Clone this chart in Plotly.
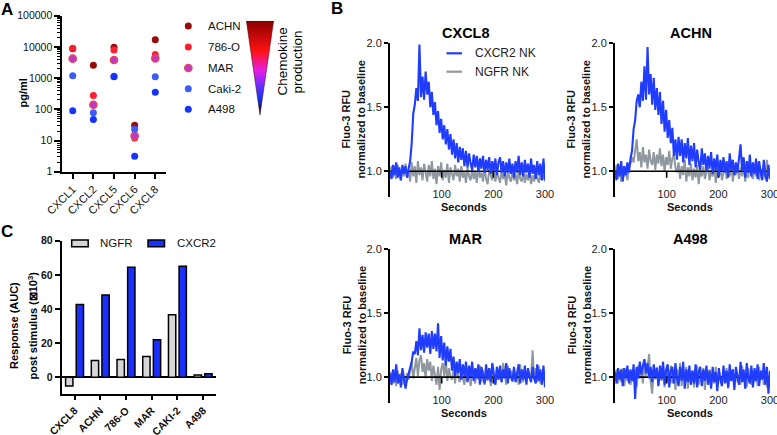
import base64
import plotly.graph_objects as go

W, H = 777, 435
FONT = "Liberation Sans"

# ---------------- Panel A data ----------------
chemokines = ["CXCL1", "CXCL2", "CXCL5", "CXCL6", "CXCL8"]
cell_lines_A = ["ACHN", "786-O", "MAR", "Caki-2", "A498"]
achn_pgml = [8800, 2600, 9700, 31, 17000]
o786_pgml = [9000, 275, 8000, 12, 5700]
mar_pgml = [4200, 140, 3800, 14, 4300]
caki2_pgml = [1200, 78, 1150, 23, 1100]
a498_pgml = [90, 47, 1100, 3.1, 355]
log_ticks = [1, 10, 100, 1000, 10000, 100000]

# ---------------- Panel C data ----------------
cells_C = ["CXCL8", "ACHN", "786-O", "MAR", "CAKI-2", "A498"]
ngfr_auc = [-5.1, 9.9, 10.5, 12.2, 36.7, 1.4]
cxcr2_auc = [42.6, 48.2, 64.4, 22.0, 65.0, 2.1]

# ---------------- Panel B data (one value every 3 s, 0..300 s) ----------------
cxcl8_cxcr2 = [
    1.00, 0.94, 1.05, 0.97, 1.07, 0.95, 1.03, 0.93, 1.05, 0.98,
    1.04, 0.95, 1.02, 1.08, 1.22, 1.45, 1.52, 1.65, 1.55, 1.99,
    1.58, 1.74, 1.56, 1.78, 1.60, 1.70, 1.50, 1.62, 1.44, 1.54,
    1.36, 1.47, 1.30, 1.41, 1.25, 1.36, 1.21, 1.33, 1.17, 1.29,
    1.13, 1.25, 1.10, 1.22, 1.07, 1.19, 1.09, 1.18, 1.04, 1.16,
    1.03, 1.14, 1.06, 1.01, 1.13, 1.03, 1.12, 1.00, 1.10, 1.02,
    1.12, 0.99, 1.09, 1.01, 1.11, 0.98, 1.08, 1.00, 1.10, 0.97,
    1.07, 1.11, 0.99, 1.08, 0.96, 1.07, 0.99, 1.10, 0.98, 1.06,
    0.95, 1.08, 0.99, 1.12, 0.97, 1.07, 0.96, 1.09, 0.99, 1.06,
    0.95, 1.10, 0.98, 1.05, 0.94, 1.08, 0.97, 1.06, 0.93, 1.10,
    0.93]
cxcl8_ngfr = [
    0.98, 1.04, 0.95, 1.02, 0.94, 1.05, 0.99, 0.93, 1.03, 0.96,
    1.06, 0.95, 1.01, 0.92, 1.07, 0.96, 1.04, 0.91, 1.08, 0.97,
    1.03, 0.93, 1.06, 0.98, 0.92, 1.05, 0.96, 1.08, 0.94, 1.02,
    0.90, 1.04, 0.96, 1.07, 0.93, 1.01, 0.95, 1.06, 0.91, 1.03,
    0.97, 0.93, 1.05, 0.96, 1.02, 0.92, 1.04, 0.95, 1.00, 0.91,
    1.03, 0.96, 0.93, 1.02, 0.94, 1.00, 0.91, 1.04, 0.95, 0.99,
    0.92, 1.03, 0.94, 0.90, 1.01, 0.96, 0.93, 1.03, 0.92, 0.99,
    0.95, 0.91, 1.02, 0.94, 0.98, 0.89, 1.01, 0.95, 0.92, 1.00,
    0.93, 0.98, 0.90, 1.01, 0.94, 0.92, 0.99, 0.91, 0.98, 0.93,
    1.00, 0.90, 0.97, 0.92, 0.99, 0.94, 0.91, 0.98, 0.93, 0.97,
    0.92]
achn_cxcr2 = [
    1.00, 0.93, 1.06, 0.96, 1.08, 0.92, 1.04, 0.97, 1.07, 0.99,
    1.10, 1.16, 1.33, 1.40, 1.55, 1.60, 1.50, 1.70, 1.55, 1.82,
    1.56, 1.97, 1.60, 1.76, 1.52, 1.73, 1.48, 1.65, 1.44, 1.62,
    1.37, 1.55, 1.31, 1.48, 1.26, 1.40, 1.22, 1.34, 1.12, 1.25,
    1.09, 1.27, 1.12, 1.25, 1.07, 1.22, 1.10, 1.26, 1.05, 1.20,
    1.08, 1.22, 1.03, 1.17, 1.07, 1.01, 1.18, 1.05, 1.14, 1.00,
    1.12, 1.02, 1.15, 0.98, 1.10, 1.01, 1.13, 0.96, 1.09, 1.00,
    1.11, 0.99, 1.08, 0.95, 1.14, 1.01, 1.09, 0.97, 1.07, 0.99,
    1.10, 1.21, 1.00, 1.11, 0.95, 1.08, 0.99, 1.13, 0.96, 1.07,
    0.98, 1.10, 0.94, 1.08, 0.99, 0.93, 1.09, 0.97, 0.92, 1.05,
    0.94]
achn_ngfr = [
    0.98, 1.05, 0.94, 1.03, 0.92, 1.04, 0.96, 1.01, 0.93, 1.04,
    1.06, 1.11, 1.07, 1.16, 1.25, 1.08, 1.15, 1.03, 1.19, 1.07,
    1.13, 1.02, 1.17, 1.08, 1.05, 1.15, 1.01, 1.13, 1.06, 1.18,
    1.04, 1.13, 1.00, 1.11, 1.05, 1.16, 1.02, 1.10, 1.13, 1.03,
    0.99, 1.07, 0.94, 1.04, 0.97, 1.09, 0.92, 1.03, 0.96, 1.06,
    0.93, 1.02, 0.95, 1.05, 0.90, 1.01, 0.96, 1.04, 0.94, 1.00,
    1.03, 0.93, 1.01, 0.96, 1.06, 0.91, 1.02, 0.95, 1.04, 0.93,
    1.00, 1.05, 0.94, 1.02, 0.96, 1.07, 0.92, 1.01, 0.97, 1.04,
    0.94, 1.03, 0.96, 1.06, 0.92, 1.01, 0.95, 1.05, 0.97, 0.94,
    1.04, 0.96, 1.07, 0.93, 1.02, 0.96, 1.05, 0.94, 1.09, 0.97,
    1.02]
mar_cxcr2 = [
    1.03, 0.94, 1.06, 0.96, 1.10, 0.95, 1.02, 0.92, 1.07, 0.97,
    0.91, 0.98, 1.03, 1.08, 1.12, 1.20, 1.18, 1.28, 1.17, 1.38,
    1.21, 1.33, 1.19, 1.35, 1.23, 1.34, 1.18, 1.36, 1.22, 1.34,
    1.20, 1.42, 1.15, 1.32, 1.13, 1.27, 1.09, 1.24, 1.12, 1.22,
    1.05, 1.16, 1.01, 1.12, 1.03, 1.14, 0.98, 1.10, 1.01, 1.12,
    0.96, 1.09, 1.00, 1.12, 0.97, 1.07, 0.99, 1.10, 0.94, 1.08,
    1.01, 0.95, 1.10, 0.98, 1.07, 0.96, 1.11, 1.00, 0.94, 1.08,
    0.98, 1.09, 0.96, 1.06, 0.99, 1.11, 0.95, 1.07, 1.00, 0.97,
    1.08, 0.96, 1.05, 1.10, 0.95, 1.06, 0.98, 1.09, 0.94, 1.07,
    1.00, 0.96, 1.08, 0.99, 0.95, 1.10, 0.97, 1.06, 0.94, 1.09,
    0.92]
mar_ngfr = [
    0.99, 1.04, 0.95, 1.02, 0.93, 1.05, 0.97, 1.03, 0.94, 1.01,
    0.96, 1.03, 0.98, 1.06, 1.12, 0.99, 1.09, 1.15, 1.01, 1.13,
    1.17, 1.04, 1.11, 0.99, 1.14, 1.05, 1.12, 0.97, 1.09, 1.02,
    0.94, 1.08, 0.90, 1.06, 1.11, 1.01, 1.13, 0.97, 1.07, 1.00,
    0.98, 1.06, 0.95, 1.09, 1.00, 0.96, 1.07, 0.99, 0.94, 1.05,
    0.97, 1.08, 0.93, 1.04, 0.99, 0.95, 1.06, 0.98, 1.09, 0.96,
    1.05, 0.94, 1.02, 0.97, 1.07, 0.93, 1.04, 0.99, 0.95, 1.08,
    0.98, 1.06, 0.96, 1.11, 1.01, 0.94, 1.09, 0.99, 1.05, 0.96,
    1.07, 0.98, 1.04, 0.94, 1.10, 1.00, 0.96, 1.06, 0.98, 1.05,
    1.03, 0.99, 1.21, 0.98, 1.07, 0.96, 1.09, 0.95, 1.03, 0.97,
    1.03]
a498_cxcr2 = [
    1.04, 0.95, 1.07, 0.98, 1.06, 0.93, 1.07, 0.99, 1.09, 0.95,
    1.06, 0.97, 1.10, 0.83, 1.08, 0.99, 1.12, 1.02, 1.09, 1.14,
    1.03, 1.11, 0.99, 1.08, 0.96, 1.10, 1.00, 1.07, 0.93, 1.09,
    0.98, 1.12, 0.94, 1.06, 1.10, 0.92, 1.05, 1.08, 0.95, 1.11,
    0.99, 0.93, 1.08, 0.97, 1.12, 0.91, 1.06, 0.96, 1.09, 0.94,
    1.05, 0.95, 1.10, 0.92, 1.04, 1.08, 0.93, 1.06, 0.97, 1.09,
    0.94, 1.05, 0.91, 1.08, 0.96, 1.04, 0.89, 1.07, 0.98, 0.93,
    1.09, 0.95, 1.05, 0.92, 1.10, 0.97, 1.06, 0.90, 1.08, 0.99,
    0.94, 1.12, 0.96, 1.06, 0.91, 1.11, 0.99, 0.95, 1.09, 0.92,
    1.07, 0.97, 1.10, 0.93, 1.05, 0.98, 1.11, 0.94, 1.08, 0.87,
    1.05]
a498_ngfr = [
    0.99, 1.06, 0.95, 1.04, 0.96, 1.07, 0.93, 1.03, 0.97, 1.05,
    0.94, 1.02, 0.96, 1.06, 0.92, 1.09, 0.99, 1.06, 0.95, 1.11,
    1.01, 1.07, 1.18, 0.96, 0.87, 1.06, 0.98, 1.08, 0.94, 1.04,
    0.97, 1.10, 0.92, 1.05, 0.99, 0.94, 1.09, 0.95, 1.03, 0.90,
    1.06, 0.96, 1.11, 0.93, 1.04, 0.98, 1.08, 0.91, 1.02, 0.95,
    1.05, 0.92, 1.01, 1.09, 0.94, 1.03, 0.96, 1.07, 0.90, 1.04,
    0.97, 1.06, 0.93, 1.02, 0.95, 1.08, 0.92, 1.03, 0.98, 0.94,
    1.05, 0.96, 1.07, 0.91, 1.02, 0.97, 1.06, 0.93, 1.04, 0.96,
    1.01, 0.94, 1.09, 0.96, 1.03, 0.92, 1.07, 0.98, 0.94, 1.05,
    0.96, 1.03, 0.93, 1.08, 0.98, 1.04, 0.94, 1.02, 0.92, 1.01,
    0.97]
SAMPLE_STEP = 3  # seconds between samples
baseline = 1.0
b_titles = ["CXCL8", "ACHN", "MAR", "A498"]
b_series = [(cxcl8_cxcr2, cxcl8_ngfr), (achn_cxcr2, achn_ngfr),
            (mar_cxcr2, mar_ngfr), (a498_cxcr2, a498_ngfr)]


def px(x):
    return x / W


def py(y):
    return 1 - y / H


fig = go.Figure()


def ann(x, y, text, size=11, angle=0, xanchor="center", color="black"):
    fig.add_annotation(x=px(x), y=py(y), xref="paper", yref="paper", text=text,
                       showarrow=False, textangle=angle, xanchor=xanchor,
                       yanchor="middle", font=dict(size=size, family=FONT, color=color))


# ---------------- Panel A ----------------
a_styles = {
    "ACHN": dict(color="#990a0a", line=dict(color="#990a0a", width=0)),
    "786-O": dict(color="#ff1f2f", line=dict(color="#ff1f2f", width=0)),
    "MAR": dict(color="#b43ad4", line=dict(color="#f0405c", width=1.7)),
    "Caki-2": dict(color="#3d5cff", line=dict(color="#3d5cff", width=0)),
    "A498": dict(color="#1634ff", line=dict(color="#1634ff", width=0)),
}
a_values = [achn_pgml, o786_pgml, mar_pgml, caki2_pgml, a498_pgml]
for name, vals in zip(cell_lines_A, a_values):
    fig.add_trace(go.Scatter(x=chemokines, y=vals, mode="markers", name=name,
                             marker=dict(size=7, **a_styles[name]),
                             xaxis="x", yaxis="y", cliponaxis=False))

# legend A (overlay pixel axis)
leg_rows = [26, 47, 68, 88.7, 109.3]
for name, yy in zip(cell_lines_A, leg_rows):
    fig.add_trace(go.Scatter(x=[188.3], y=[yy], mode="markers",
                             marker=dict(size=7, **a_styles[name]),
                             xaxis="x7", yaxis="y7", hoverinfo="skip"))
    ann(206, yy, name, size=11.5, xanchor="left", color="#111")

# ---------------- Panel C ----------------
fig.add_trace(go.Bar(x=cells_C, y=ngfr_auc, name="NGFR", xaxis="x2", yaxis="y2",
                     marker=dict(color="#d6d6d6", line=dict(color="black", width=1.5))))
fig.add_trace(go.Bar(x=cells_C, y=cxcr2_auc, name="CXCR2", xaxis="x2", yaxis="y2",
                     marker=dict(color="#1a30ff", line=dict(color="black", width=1.5))))

# ---------------- Panel B ----------------
for k, (blue, gray) in enumerate(b_series):
    xa, ya = f"x{k + 3}", f"y{k + 3}"
    tg = [i * SAMPLE_STEP for i in range(len(gray))]
    tb = [i * SAMPLE_STEP for i in range(len(blue))]
    fig.add_trace(go.Scatter(x=tg, y=gray, mode="lines", name="NGFR NK",
                             line=dict(color="#8e989e", width=2.0), xaxis=xa, yaxis=ya))
    fig.add_trace(go.Scatter(x=[0, 300, None, 100, 100, None, 200, 200, None, 300, 300],
                             y=[baseline, baseline, None, baseline, baseline - 0.05, None,
                                baseline, baseline - 0.05, None, baseline, baseline - 0.05],
                             mode="lines", line=dict(color="black", width=1.6),
                             xaxis=xa, yaxis=ya, hoverinfo="skip"))
    fig.add_trace(go.Scatter(x=tb, y=blue, mode="lines", name="CXCR2 NK",
                             line=dict(color="#1f3cff", width=2.1), xaxis=xa, yaxis=ya))

axis_common = dict(showgrid=False, zeroline=False, linecolor="black", linewidth=2,
                   tickcolor="black", tickwidth=2, fixedrange=True, automargin=False)

layout = dict(
    width=W, height=H, margin=dict(l=0, r=0, t=0, b=0, autoexpand=False),
    paper_bgcolor="white", plot_bgcolor="rgba(0,0,0,0)", showlegend=False,
    font=dict(family=FONT, color="black"),
    barmode="group", bargap=0.175, bargroupgap=0.31,
    # Panel A
    xaxis=dict(domain=[px(62.4), px(165.6)], anchor="y", type="category",
               categoryorder="array", categoryarray=chemokines, range=[-0.5, 4.5],
               showline=True, ticks="outside", ticklen=5, tickangle=-45,
               tickfont=dict(size=11, color="#111"), **axis_common),
    yaxis=dict(domain=[py(171.7), py(15.7)], anchor="x", type="log", range=[0, 5],
               tickvals=log_ticks, ticktext=[str(v) for v in log_ticks],
               showline=True, ticks="outside", ticklen=6,
               minor=dict(ticks="outside", ticklen=3, tickwidth=1, tickcolor="black",
                          dtick="D1", showgrid=False),
               tickfont=dict(size=10.5, color="#111"), **axis_common),
    # Panel C
    xaxis2=dict(domain=[px(61.7), px(216)], anchor="y2", type="category",
                categoryorder="array", categoryarray=cells_C, range=[-0.5, 5.5],
                showline=True, ticks="outside", ticklen=4, tickangle=-45,
                tickfont=dict(size=10.5, color="#111", weight="bold"), **axis_common),
    yaxis2=dict(domain=[py(394.4), py(240.7)], anchor="x2", range=[-10, 80],
                tickvals=[0, 20, 40, 60, 80], showline=True, ticks="outside", ticklen=5,
                tickfont=dict(size=10.5, color="#111", weight="bold"),
                **{**axis_common, "zeroline": True}, zerolinecolor="black",
                zerolinewidth=2),
    # overlay pixel axes for legend A
    xaxis7=dict(domain=[0, 1], range=[0, W], visible=False, anchor="y7",
                fixedrange=True, automargin=False),
    yaxis7=dict(domain=[0, 1], range=[H, 0], visible=False, anchor="x7",
                fixedrange=True, automargin=False),
)

b_x_domains = [(390, 545), (615, 770), (390, 545), (615, 770)]
b_y_domains = [(43.3, 196.9), (43.3, 196.9), (249, 402.7), (249, 402.7)]
for k in range(4):
    x0, x1 = b_x_domains[k]
    y0, y1 = b_y_domains[k]
    layout[f"xaxis{k + 3}"] = dict(domain=[px(x0), px(x1)], anchor=f"y{k + 3}",
                                   range=[0, 300], tickvals=[100, 200, 300],
                                   showline=False, ticks="", ticklabelstandoff=-11,
                                   ticklabeloverflow="allow",
                                   tickfont=dict(size=11, color="#222"),
                                   **{**axis_common})
    layout[f"yaxis{k + 3}"] = dict(domain=[py(y1), py(y0)], anchor=f"x{k + 3}",
                                   range=[0.8, 2.0], tickvals=[1.0, 1.5, 2.0],
                                   tickformat=".1f", showline=True, ticks="outside",
                                   ticklen=4, tickfont=dict(size=11, color="#222"),
                                   **axis_common)
    cx = (x0 + x1) / 2
    ann(cx - 2, y0 - 10.5, f"<b>{b_titles[k]}</b>", size=14.5)
    ann(cx - 3, y1 + 10, "<b>Seconds</b>", size=11, color="#111")
    yc = (y0 + y1) / 2 - 1
    ann(x0 - 43.5, yc, "<b>Fluo-3 RFU</b>", size=11, angle=-90, color="#111")
    ann(x0 - 28.5, yc, "<b>normalized to baseline</b>", size=11, angle=-90, color="#111")

fig.update_layout(**layout)

# ---------------- legends B and C ----------------
shapes = []
for yy, col, txt in [(53.3, "#1f3cff", "CXCR2 NK"), (71.7, "#8e989e", "NGFR NK")]:
    shapes.append(dict(type="line", xref="paper", yref="paper", x0=px(446.5), x1=px(462),
                       y0=py(yy), y1=py(yy), line=dict(color=col, width=2.2)))
    ann(472.5, yy, txt, size=12, xanchor="left", color="#222")
for x0, col, txt in [(71.7, "#d6d6d6", "NGFR"), (148, "#1a30ff", "CXCR2")]:
    shapes.append(dict(type="rect", xref="paper", yref="paper", x0=px(x0), x1=px(x0 + 16.5),
                       y0=py(246.8), y1=py(240), fillcolor=col,
                       line=dict(color="black", width=1.5)))
    ann(x0 + 26.5, 243.4, txt, size=11.5, xanchor="left", color="#111")
fig.update_layout(shapes=shapes)

# axis titles A and C
ann(23, 93.5, "<b>pg/ml</b>", size=11, angle=-90)
ann(13.5, 325.5, "<b>Response (AUC)</b>", size=11, angle=-90)
ann(32, 325.5, "<b>post stimulus (⊠10<sup>3</sup>)</b>", size=11, angle=-90)

# panel letters
for letter, x, y in [("A", 7, 9), ("B", 337, 8), ("C", 7, 231.5)]:
    ann(x, y, f"<b>{letter}</b>", size=17)

# Chemokine production triangle (gradient image) + label
svg = ('<svg xmlns="http://www.w3.org/2000/svg" width="56" height="188" viewBox="0 0 28 94" '
       'preserveAspectRatio="none"><defs><linearGradient id="g" x1="0" y1="0" x2="0" y2="1">'
       '<stop offset="0" stop-color="#8a0000"/><stop offset="0.32" stop-color="#ff1212"/>'
       '<stop offset="0.52" stop-color="#e81ee0"/><stop offset="0.67" stop-color="#7a2cff"/>'
       '<stop offset="0.82" stop-color="#1234ff"/><stop offset="1" stop-color="#00003a"/>'
       '</linearGradient></defs><polygon points="0.4,0.4 27.6,0.4 14,94" fill="url(#g)" '
       'stroke="#3a0000" stroke-width="0.5"/></svg>')
src = "data:image/svg+xml;base64," + base64.b64encode(svg.encode()).decode()
fig.add_layout_image(dict(source=src, xref="paper", yref="paper", x=px(246), y=py(20.7),
                          sizex=px(274) - px(246), sizey=py(20.7) - py(115),
                          sizing="stretch", xanchor="left", yanchor="top", layer="above"))
ann(281.5, 62, "Chemokine", size=13.5, angle=-90)
ann(296.5, 62, "production", size=13.5, angle=-90)

fig.write_html("out.html", config={"displayModeBar": False},
               post_script="document.body.style.margin='0';")
